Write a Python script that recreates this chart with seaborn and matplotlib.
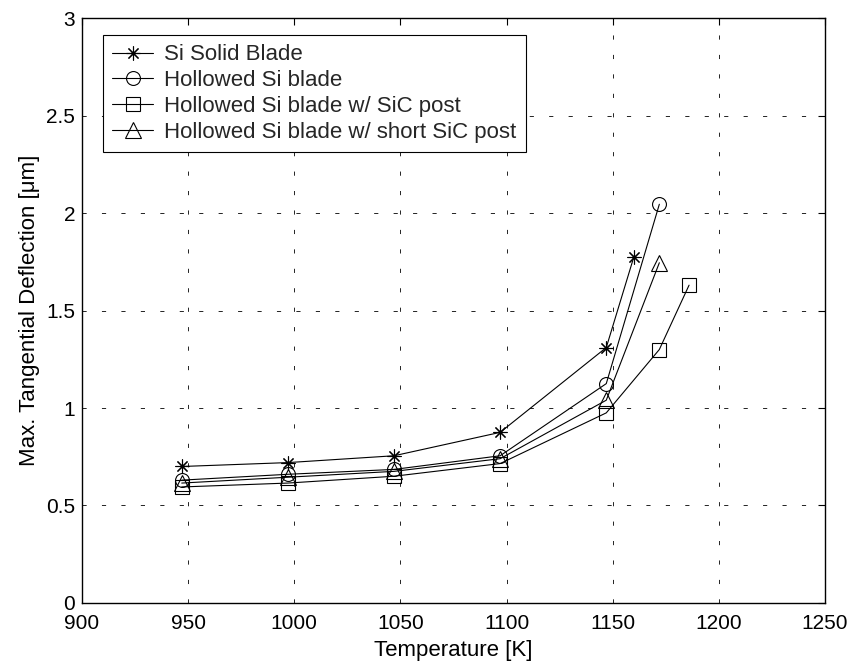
import matplotlib
matplotlib.use("Agg")
import matplotlib.pyplot as plt
import seaborn as sns
import pandas as pd

# ---- data ----
labels = ["Si Solid Blade", "Hollowed Si blade",
          "Hollowed Si blade w/ SiC post", "Hollowed Si blade w/ short SiC post"]
temp_solid = [947, 997, 1047, 1097, 1147, 1160]
defl_solid = [0.70, 0.72, 0.755, 0.875, 1.31, 1.775]
temp_hollow = [947, 997, 1047, 1097, 1147, 1172]
defl_hollow = [0.63, 0.66, 0.685, 0.755, 1.125, 2.045]
temp_sic = [947, 997, 1047, 1097, 1147, 1172, 1186]
defl_sic = [0.595, 0.615, 0.65, 0.715, 0.975, 1.30, 1.63]
temp_short = [947, 997, 1047, 1097, 1147, 1172]
defl_short = [0.615, 0.645, 0.675, 0.74, 1.04, 1.745]

xticks = [900, 950, 1000, 1050, 1100, 1150, 1200, 1250]
yticks = [0, 0.5, 1, 1.5, 2, 2.5, 3]
yticklabels = ["0", "0.5", "1", "1.5", "2", "2.5", "3"]

sns.set_theme(style="white")
plt.rcParams["font.family"] = ["Liberation Sans", "DejaVu Sans"]
plt.rcParams["lines.scale_dashes"] = False

fig = plt.figure(figsize=(8.52, 6.69), dpi=100)
ax = fig.add_axes([0.0962, 0.0987, 0.872, 0.8743])

series = [
    (temp_solid, defl_solid, (8, 2, 0), 10),
    (temp_hollow, defl_hollow, "o", 10),
    (temp_sic, defl_sic, "s", 10),
    (temp_short, defl_short, "^", 11),
]
for (xs, ys, mk, ms), lab in zip(series, labels):
    df = pd.DataFrame({"T": xs, "D": ys})
    sns.lineplot(data=df, x="T", y="D", ax=ax, sort=False, estimator=None,
                 color="black", linewidth=0.8, marker=mk, markersize=ms,
                 markerfacecolor="none", markeredgecolor="black",
                 markeredgewidth=0.8, label=lab)

ax.set_xlim(900, 1250)
ax.set_ylim(0, 3)
ax.set_xticks(xticks)
ax.set_yticks(yticks)
ax.set_yticklabels(yticklabels)
ax.grid(True, color="black", linestyle=(0, (3, 11)), linewidth=0.6)
ax.tick_params(direction="in", top=True, right=True, length=5, width=0.8,
               labelsize=15, colors="black")
ax.tick_params(axis="x", pad=8)
ax.tick_params(axis="y", pad=5)
for s in ax.spines.values():
    s.set_color("black")
    s.set_linewidth(1.0)

ax.set_xlabel("Temperature [K]", fontsize=16, color="black", labelpad=5)
ax.set_ylabel("Max. Tangential Deflection [\u03bcm]", fontsize=16, color="black", labelpad=4)

leg = ax.legend(loc="upper left", bbox_to_anchor=(0.028, 0.971), borderaxespad=0,
                fancybox=False, edgecolor="black", framealpha=1, fontsize=16,
                handlelength=1.85, labelspacing=0.22, borderpad=0.42, handletextpad=0.5)
leg.get_frame().set_linewidth(0.8)

fig.savefig("out.png", dpi=100)
